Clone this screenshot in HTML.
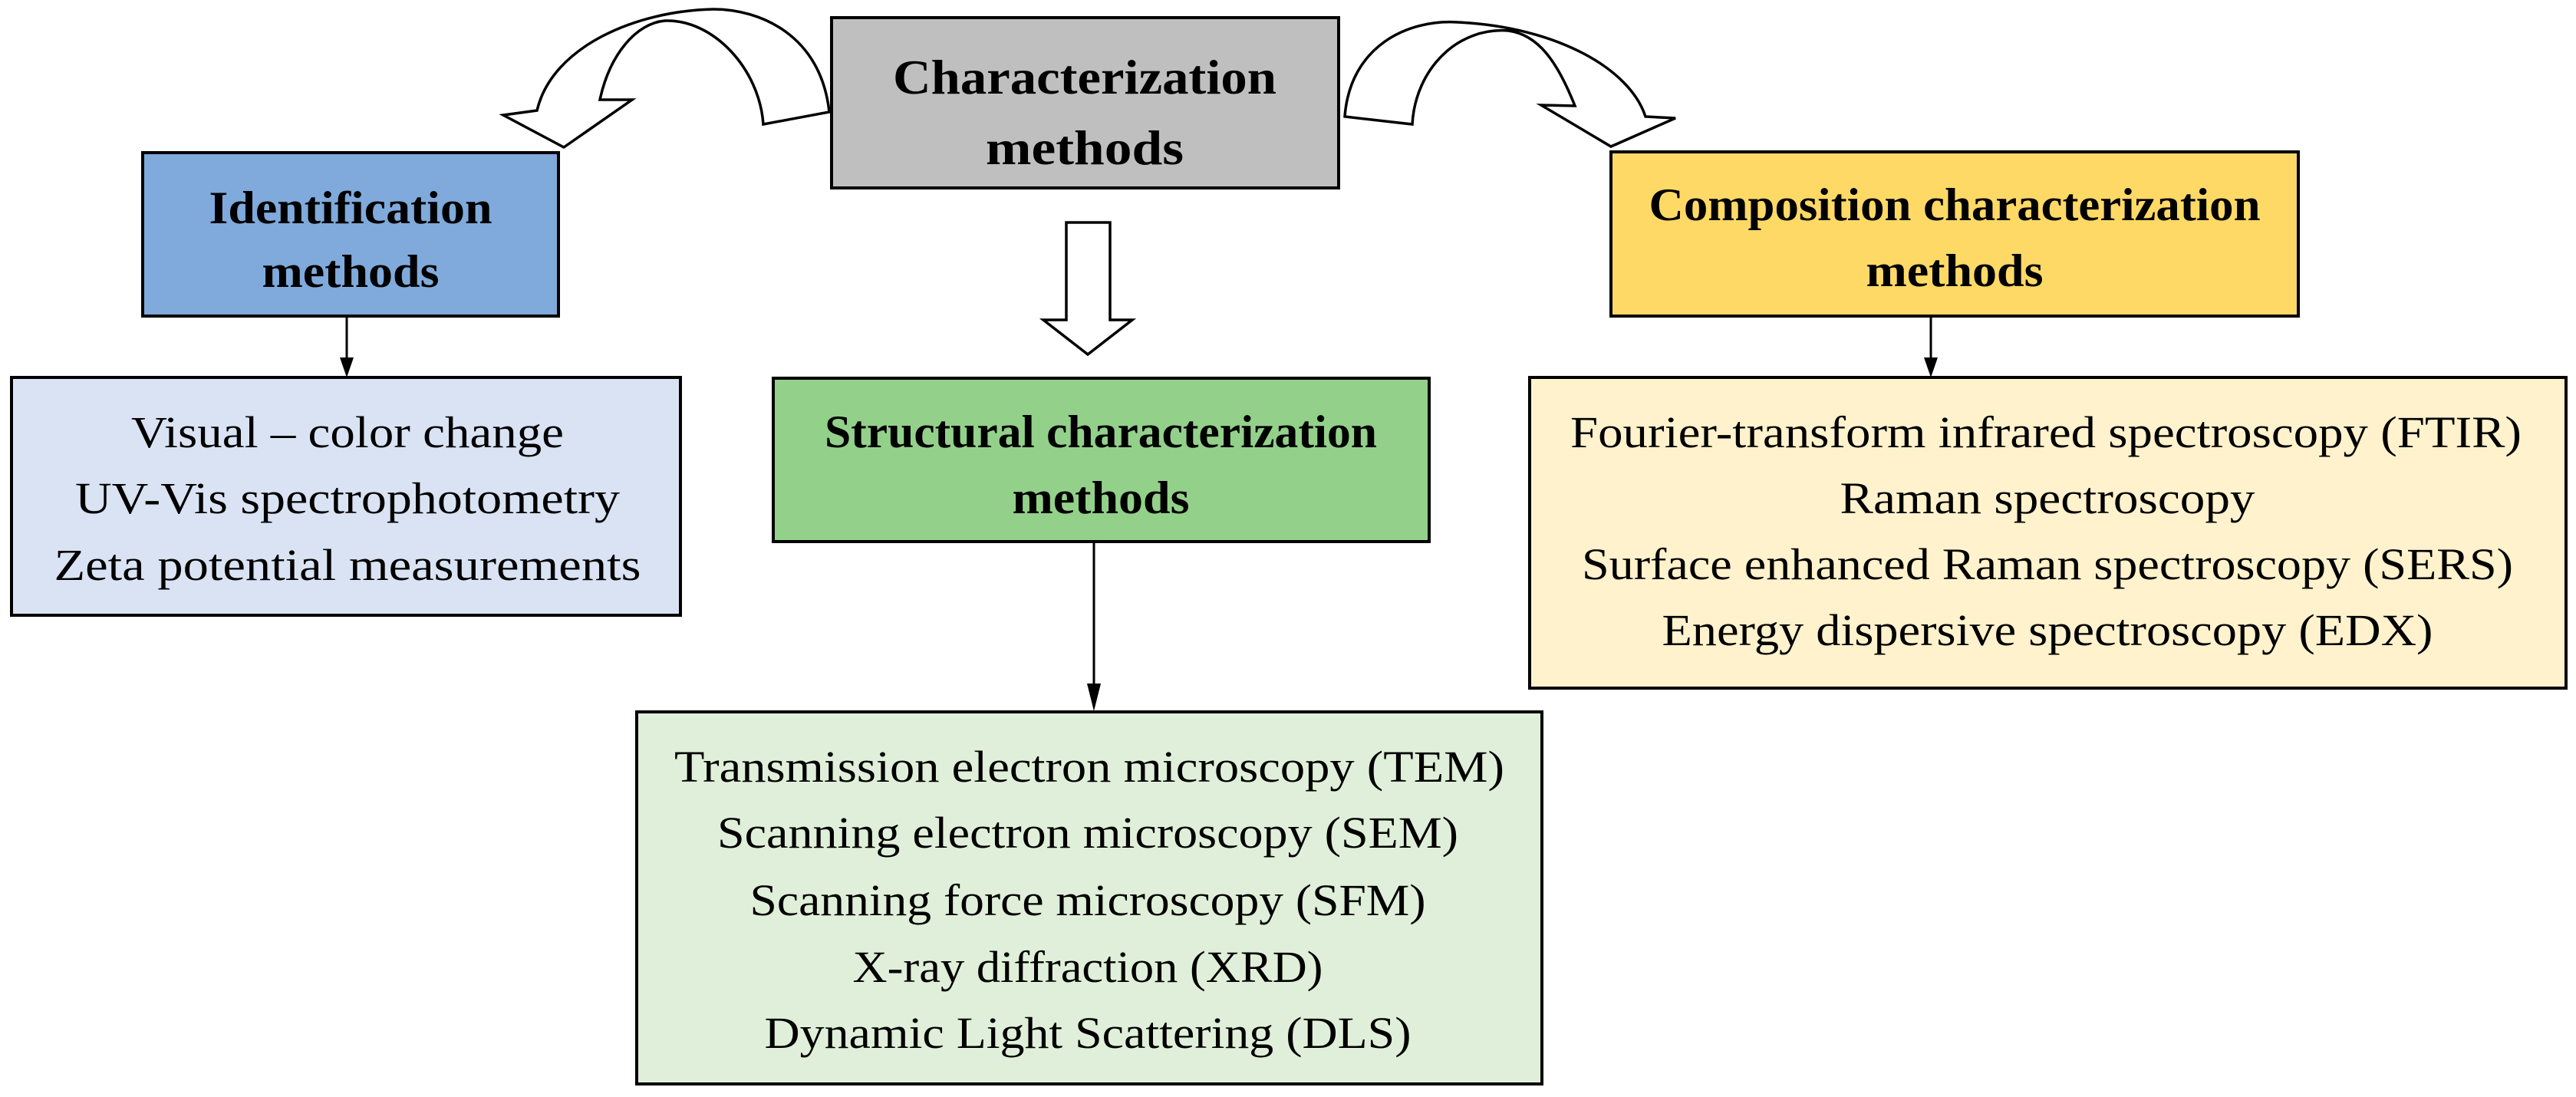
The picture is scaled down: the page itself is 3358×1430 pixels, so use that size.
<!DOCTYPE html>
<html><head><meta charset="utf-8"><style>html,body{margin:0;padding:0;background:#fff}svg{display:block}</style></head>
<body>
<svg width="3358" height="1430" viewBox="0 0 3358 1430" xmlns="http://www.w3.org/2000/svg" font-family="'Liberation Serif', serif">
<rect width="3358" height="1430" fill="#fff"/>
<g stroke="#000" stroke-width="4">
<rect x="1084" y="23" width="661" height="222" fill="#bfbfbf"/>
<rect x="186" y="199" width="542" height="213" fill="#7faadb"/>
<rect x="15" y="492" width="872" height="310" fill="#dae3f3"/>
<rect x="1008" y="493" width="855" height="213" fill="#93d18a"/>
<rect x="830" y="928" width="1180" height="485" fill="#e0efd9"/>
<rect x="2100" y="198" width="896" height="214" fill="#ffd966"/>
<rect x="1994" y="492" width="1351" height="405" fill="#fff2cc"/>
</g>
<g stroke="#000" stroke-width="3.5" fill="#fff" stroke-linejoin="miter">
<path d="M1081,146 C1070,45 990,12 930,12 C830,14 720,60 700,144 L656,150 L735,192 L824,130 L782,130 C795,70 830,30 867,27 C930,25 990,90 995,162 Z"/>
<path d="M1753,152 C1760,60 1835,25 1900,29 C2030,35 2125,90 2145,152 L2184,154 L2100,191 L2009,137 L2053,138 C2030,80 2005,45 1966,40 C1900,35 1845,90 1841,162 Z"/>
<path d="M1390,290 L1447,290 L1447,417 L1476,417 L1418,462 L1360,417 L1390,417 Z"/>
</g>
<g stroke="#000" stroke-width="3">
<line x1="452" y1="412" x2="452" y2="470"/>
<line x1="1426" y1="706" x2="1426" y2="900"/>
<line x1="2517" y1="412" x2="2517" y2="470"/>
</g>
<g fill="#000">
<polygon points="443,466 461,466 452,492"/>
<polygon points="1417,891 1435,891 1426,927"/>
<polygon points="2508,466 2526,466 2517,492"/>
</g>
<g font-weight="bold" font-size="64" text-anchor="middle" lengthAdjust="spacingAndGlyphs">
<text x="1414" y="122" textLength="500" lengthAdjust="spacingAndGlyphs">Characterization</text>
<text x="1414" y="214" textLength="258" lengthAdjust="spacingAndGlyphs">methods</text>
<text x="457" y="291" font-size="60" textLength="369" lengthAdjust="spacingAndGlyphs">Identification</text>
<text x="457" y="374" font-size="60" textLength="231" lengthAdjust="spacingAndGlyphs">methods</text>
<text x="1435" y="583" font-size="60" textLength="720" lengthAdjust="spacingAndGlyphs">Structural characterization</text>
<text x="1435" y="669" font-size="60" textLength="231" lengthAdjust="spacingAndGlyphs">methods</text>
<text x="2548" y="287" font-size="60" textLength="797" lengthAdjust="spacingAndGlyphs">Composition characterization</text>
<text x="2548" y="373" font-size="60" textLength="231" lengthAdjust="spacingAndGlyphs">methods</text>
</g>
<g font-size="58" text-anchor="middle">
<text x="453" y="583" textLength="564" lengthAdjust="spacingAndGlyphs">Visual – color change</text>
<text x="453" y="669" textLength="710" lengthAdjust="spacingAndGlyphs">UV-Vis spectrophotometry</text>
<text x="453" y="756" textLength="765" lengthAdjust="spacingAndGlyphs">Zeta potential measurements</text>
<text x="1420" y="1019" textLength="1082" lengthAdjust="spacingAndGlyphs">Transmission electron microscopy (TEM)</text>
<text x="1418" y="1105" textLength="966" lengthAdjust="spacingAndGlyphs">Scanning electron microscopy (SEM)</text>
<text x="1418" y="1193" textLength="881" lengthAdjust="spacingAndGlyphs">Scanning force microscopy (SFM)</text>
<text x="1418" y="1280" textLength="613" lengthAdjust="spacingAndGlyphs">X-ray diffraction (XRD)</text>
<text x="1418" y="1366" textLength="843" lengthAdjust="spacingAndGlyphs">Dynamic Light Scattering (DLS)</text>
<text x="2667" y="583" textLength="1240" lengthAdjust="spacingAndGlyphs">Fourier-transform infrared spectroscopy (FTIR)</text>
<text x="2669" y="669" textLength="541" lengthAdjust="spacingAndGlyphs">Raman spectroscopy</text>
<text x="2669" y="755" textLength="1214" lengthAdjust="spacingAndGlyphs">Surface enhanced Raman spectroscopy (SERS)</text>
<text x="2669" y="841" textLength="1005" lengthAdjust="spacingAndGlyphs">Energy dispersive spectroscopy (EDX)</text>
</g>
</svg>
</body></html>
